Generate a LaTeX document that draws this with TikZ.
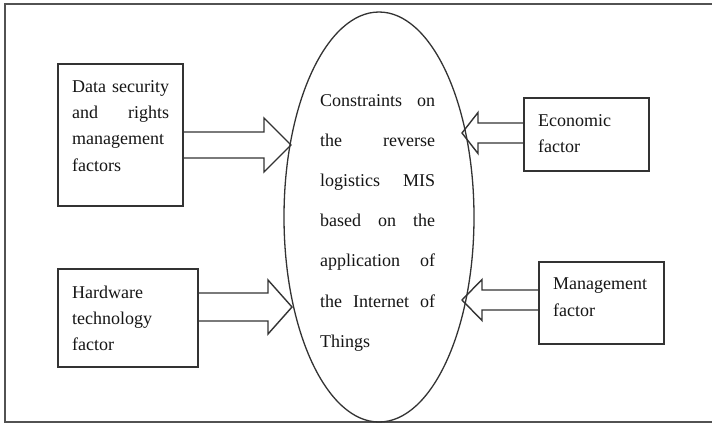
\documentclass[tikz,border=0pt]{standalone}
\usepackage{fontspec}
\setmainfont{Liberation Serif}
\usetikzlibrary{shapes.geometric,calc}
\definecolor{ln}{HTML}{333333}
\definecolor{tx}{HTML}{151515}
\newcommand\blockarr[5]{%
  \draw[barrow] ($(#1)+(0,-#3)$) -- ($(#2)+(#5,-#3)$) -- ($(#2)+(#5,-#4)$) -- (#2)
    -- ($(#2)+(#5,#4)$) -- ($(#2)+(#5,#3)$) -- ($(#1)+(0,#3)$);}
\begin{document}
\begin{tikzpicture}[x=1pt,y=-1pt,
  box/.style={draw=ln, line width=1.5pt, rectangle, inner sep=0pt},
  txt/.style={text=tx, font=\fontsize{18pt}{20pt}\selectfont, anchor=base west, inner sep=0pt},
  barrow/.style={draw=ln, line width=1.4pt, line join=miter}]
\useasboundingbox (0,0) rectangle (712,424);
\fill[white] (0,0) rectangle (712,424);
% frame
\draw[line width=2.2pt, draw=ln!85] (5,4) rectangle (718,422);
% ellipse
\node[ellipse, draw=ln, line width=1.3pt, minimum width=190pt, minimum height=410pt, inner sep=0pt] (ell) at (379,217) {};
% boxes
\node[box, minimum width=125pt, minimum height=142pt] (b1) at (120.5,135) {};
\node[box, minimum width=140pt, minimum height=98pt] (b2) at (128,318) {};
\node[box, minimum width=125pt, minimum height=73pt] (b3) at (586.5,134.5) {};
\node[box, minimum width=125pt, minimum height=82pt] (b4) at (601.5,303) {};
% box texts
\node[txt] (b1l1) at (72,92) {\makebox[97pt][s]{Data security}};
\node[txt] (b1l2) at (72,118) {\makebox[97pt][s]{and rights}};
\node[txt] (b1l3) at (72,144.5) {management};
\node[txt] (b1l4) at (72,171) {factors};
\node[txt] (b2l1) at (72,298) {Hardware};
\node[txt] (b2l2) at (72,324) {technology};
\node[txt] (b2l3) at (72,350.5) {factor};
\node[txt] (b3l1) at (538,126) {Economic};
\node[txt] (b3l2) at (538,152) {factor};
\node[txt] (b4l1) at (553,289.5) {Management};
\node[txt] (b4l2) at (553,316) {factor};
% ellipse text
\node[txt] (e1) at (320,106) {\makebox[115pt][s]{Constraints on}};
\node[txt] (e2) at (320,146.2) {\makebox[115pt][s]{the reverse}};
\node[txt] (e3) at (320,186.4) {\makebox[115pt][s]{logistics MIS}};
\node[txt] (e4) at (320,226.6) {\makebox[115pt][s]{based on the}};
\node[txt] (e5) at (320,266.8) {\makebox[115pt][s]{application of}};
\node[txt] (e6) at (320,307) {\makebox[115pt][s]{the Internet of}};
\node[txt] (e7) at (320,347.2) {Things};
% arrows
\coordinate (t1) at (291,145);
\coordinate (s1) at (b1.east |- t1);
\blockarr{s1}{t1}{13}{27}{-27}
\coordinate (t2) at (292,307);
\coordinate (s2) at (b2.east |- t2);
\blockarr{s2}{t2}{14}{27}{-24}
\coordinate (t3) at (462,133);
\coordinate (s3) at (b3.west |- t3);
\blockarr{s3}{t3}{10}{20.5}{16}
\coordinate (t4) at (462,300);
\coordinate (s4) at (b4.west |- t4);
\blockarr{s4}{t4}{10}{20.5}{20}
\end{tikzpicture}
\end{document}
